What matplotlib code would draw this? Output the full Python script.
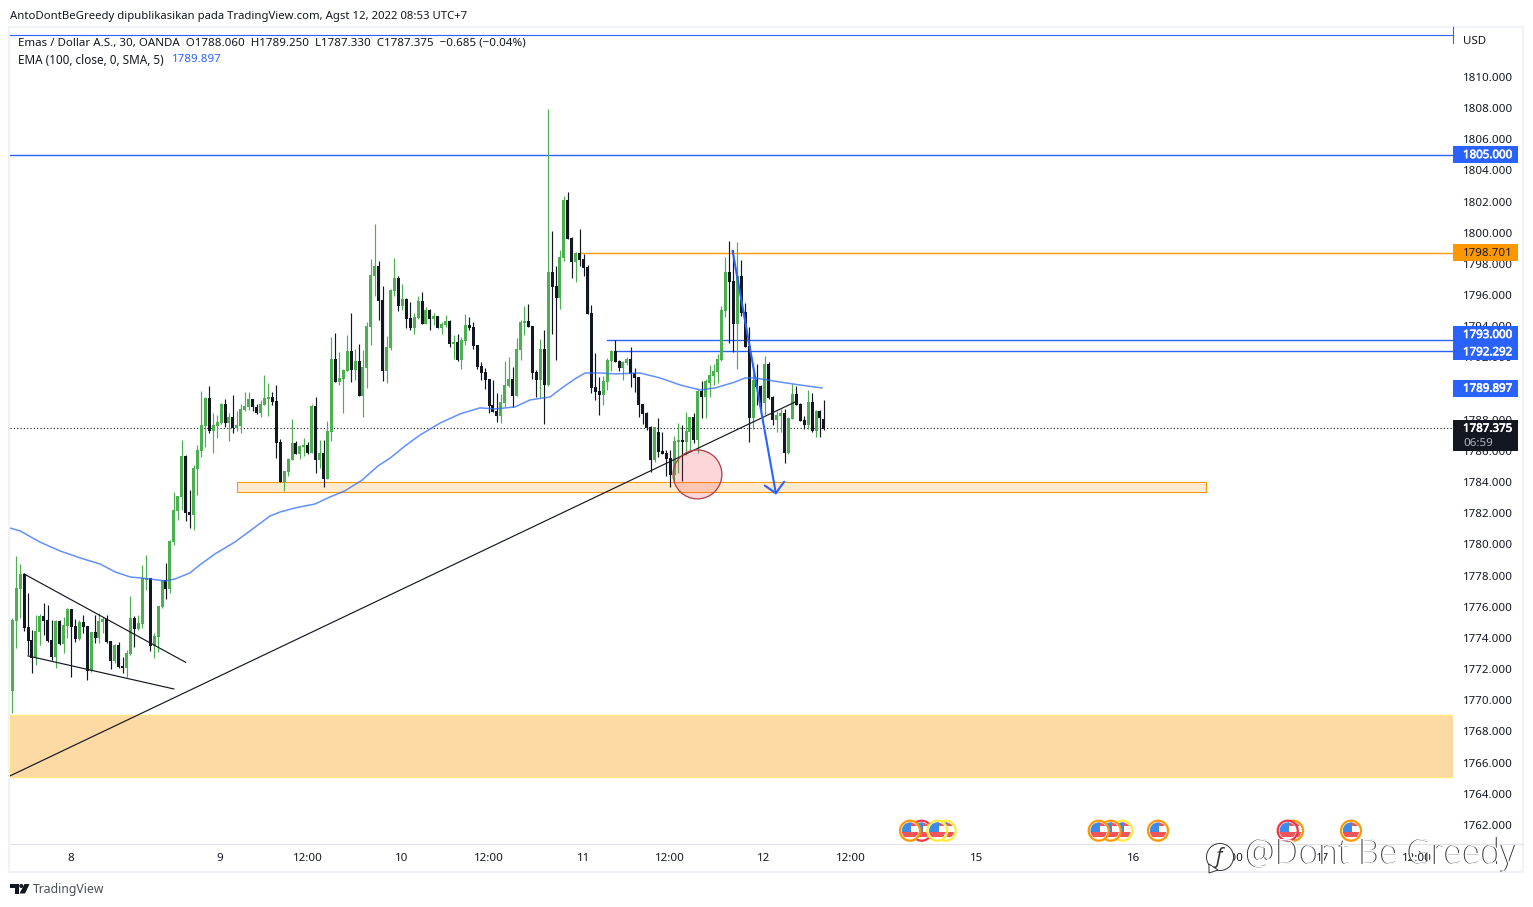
import matplotlib
matplotlib.use("Agg")
import matplotlib.pyplot as plt
from matplotlib.patches import Rectangle, Circle, Ellipse, Polygon
import matplotlib.patheffects as pe

W, H = 1533, 907
FONT = "Noto Sans"
plt.rcParams['font.family'] = [FONT, 'DejaVu Sans']

opens = [1770.60,1775.09,1777.14,1778.10,1774.70,1773.86,1772.71,1774.38,1775.41,1775.15,1773.86,1772.77,1775.09,1773.61,1774.76,1775.86,1774.76,1773.93,1775.02,1774.76,
1771.87,1774.38,1773.99,1775.02,1775.21,1773.80,1772.52,1773.54,1772.20,1772.07,1772.97,1775.28,1774.57,1774.89,1777.72,1777.84,1773.48,1774.06,1775.98,1777.72,
1777.14,1780.15,1782.14,1783.04,1785.67,1782.08,1781.89,1784.84,1785.99,1787.60,1789.40,1787.28,1787.60,1787.79,1789.01,1787.79,1788.18,1787.47,1787.60,1788.63,
1788.82,1789.33,1788.82,1788.43,1788.95,1789.33,1789.46,1789.20,1786.57,1784.00,1784.65,1785.42,1786.51,1785.80,1786.25,1786.38,1785.87,1788.88,1785.42,1785.87,
1784.20,1787.21,1791.90,1790.42,1790.62,1791.13,1792.41,1791.19,1791.77,1789.52,1791.32,1793.95,1797.23,1797.87,1795.69,1791.13,1792.61,1796.26,1797.10,1795.30,
1795.75,1794.53,1793.89,1794.53,1795.62,1794.15,1795.04,1794.47,1794.66,1793.89,1794.08,1794.34,1792.86,1792.99,1791.84,1793.05,1794.08,1793.95,1792.80,1791.45,
1791.07,1790.62,1788.95,1788.56,1788.24,1789.08,1790.17,1790.62,1789.52,1792.48,1794.21,1794.34,1794.02,1791.07,1790.55,1792.54,1790.23,1797.48,1796.58,1795.81,
1798.38,1802.10,1799.67,1798.12,1798.70,1798.32,1797.80,1794.85,1790.10,1789.85,1789.59,1790.42,1791.77,1792.41,1791.77,1791.32,1791.64,1791.90,1791.00,1790.74,
1789.01,1788.43,1787.53,1785.42,1787.21,1785.99,1785.87,1785.54,1784.45,1786.57,1786.70,1786.57,1787.21,1788.18,1786.70,1789.85,1789.46,1790.36,1790.81,1791.07,
1791.84,1794.98,1797.48,1796.91,1794.15,1797.23,1794.92,1792.73,1788.11,1790.55,1790.17,1789.08,1791.58,1789.46,1787.98,1788.24,1788.43,1785.87,1788.05,1789.65,
1789.01,1787.98,1787.66,1789.14,1787.28,1788.56,1788.06]
highs = [1775.28,1779.26,1778.74,1778.17,1776.88,1774.51,1775.47,1775.53,1776.24,1776.11,1775.15,1775.15,1775.15,1775.34,1775.92,1775.86,1775.21,1775.15,1775.47,1774.76,
1774.38,1775.47,1775.60,1775.34,1775.47,1773.80,1773.61,1773.73,1772.77,1773.22,1776.69,1775.41,1775.47,1778.68,1779.32,1777.84,1774.32,1776.05,1777.72,1778.81,
1780.28,1783.36,1783.10,1786.70,1785.74,1783.49,1785.10,1786.38,1789.85,1789.46,1790.17,1788.43,1788.31,1789.08,1789.33,1788.43,1789.59,1788.56,1789.01,1789.78,
1789.78,1789.33,1789.01,1789.27,1790.87,1790.36,1789.78,1790.23,1786.76,1784.71,1785.54,1788.05,1786.64,1786.38,1786.83,1786.57,1789.01,1789.46,1786.70,1786.70,
1787.92,1793.31,1793.57,1792.35,1791.26,1793.44,1794.85,1792.54,1792.86,1792.48,1794.27,1798.32,1800.56,1798.19,1796.58,1793.38,1796.39,1798.38,1797.23,1796.71,
1795.81,1795.56,1794.85,1795.94,1796.20,1795.24,1795.11,1794.85,1794.66,1794.27,1794.72,1794.40,1793.44,1793.50,1793.31,1794.79,1794.60,1794.27,1792.80,1791.71,
1791.32,1790.62,1790.55,1789.72,1789.65,1791.77,1792.03,1791.39,1793.25,1794.40,1795.30,1795.43,1794.02,1791.19,1793.18,1793.76,1807.94,1800.11,1797.87,1798.90,
1802.36,1802.62,1799.73,1798.77,1800.24,1798.64,1797.93,1795.37,1792.28,1790.74,1790.81,1791.96,1792.48,1793.12,1791.84,1791.77,1792.03,1792.67,1791.32,1790.74,
1789.01,1788.50,1787.60,1787.53,1788.11,1787.21,1786.06,1786.06,1786.96,1787.79,1787.66,1788.50,1788.18,1788.43,1789.97,1790.49,1790.62,1791.51,1791.58,1792.22,
1795.30,1798.45,1799.47,1798.90,1799.41,1798.25,1795.49,1793.95,1791.64,1791.58,1790.23,1792.09,1791.71,1789.52,1788.56,1788.69,1788.69,1788.18,1790.29,1790.17,
1789.08,1788.24,1789.91,1789.72,1788.63,1788.63,1789.25]
lows = [1769.18,1773.35,1775.28,1774.44,1772.90,1771.75,1772.26,1773.54,1774.19,1773.73,1772.58,1772.07,1773.54,1773.03,1773.99,1771.49,1773.73,1773.86,1774.32,1771.30,
1771.81,1773.67,1773.67,1774.32,1773.67,1772.00,1772.39,1772.07,1771.75,1771.49,1772.90,1773.41,1774.51,1774.64,1777.07,1773.16,1772.71,1773.09,1775.92,1776.50,
1776.88,1779.96,1781.57,1782.21,1781.50,1781.05,1780.92,1783.17,1785.61,1786.25,1787.15,1785.87,1786.83,1787.73,1787.53,1786.64,1787.15,1787.28,1787.15,1788.56,
1788.63,1788.56,1788.37,1788.18,1788.95,1788.24,1788.95,1785.54,1784.00,1783.43,1784.39,1785.42,1785.80,1785.48,1785.67,1785.80,1785.87,1784.58,1784.90,1783.68,
1784.20,1786.64,1790.42,1790.23,1788.43,1791.13,1790.42,1790.55,1789.52,1788.18,1790.04,1792.80,1795.94,1794.40,1790.49,1790.36,1792.48,1795.94,1794.98,1795.04,
1793.89,1793.76,1793.50,1794.47,1794.15,1794.15,1793.76,1794.08,1793.89,1793.50,1793.95,1792.67,1791.90,1791.77,1791.26,1792.80,1793.76,1792.54,1791.26,1790.55,
1789.97,1788.43,1788.50,1787.86,1787.79,1788.82,1790.10,1788.82,1789.52,1791.84,1793.44,1793.95,1790.62,1789.46,1789.40,1787.73,1790.17,1793.50,1791.84,1795.11,
1798.19,1799.60,1797.10,1796.84,1797.87,1797.23,1794.79,1789.72,1789.27,1788.31,1788.95,1789.91,1791.13,1791.71,1791.13,1790.55,1791.51,1790.10,1789.78,1788.18,
1787.73,1787.34,1784.65,1785.29,1785.61,1785.80,1784.39,1783.68,1784.00,1784.58,1784.07,1785.74,1786.06,1786.51,1785.87,1788.11,1788.11,1789.46,1790.23,1790.36,
1791.77,1794.60,1792.93,1792.35,1791.26,1794.66,1792.67,1786.57,1787.41,1788.95,1788.43,1788.31,1789.33,1787.66,1787.21,1787.21,1785.23,1785.80,1788.05,1788.95,
1787.92,1787.41,1787.41,1787.21,1786.89,1786.89,1787.33]
closes = [1775.15,1777.20,1778.10,1774.64,1773.80,1772.71,1774.44,1775.41,1775.09,1773.80,1772.77,1775.09,1773.61,1774.83,1775.86,1774.70,1773.93,1775.02,1774.70,1771.87,
1774.38,1773.99,1775.09,1775.21,1773.73,1772.52,1773.54,1772.13,1772.07,1773.03,1775.28,1774.57,1774.96,1777.84,1777.84,1773.48,1774.12,1776.05,1777.72,1777.14,
1780.22,1782.21,1783.10,1785.67,1782.01,1781.89,1784.90,1786.06,1787.66,1789.40,1787.28,1787.66,1787.86,1789.01,1787.79,1788.18,1787.47,1787.66,1788.69,1788.88,
1789.33,1788.82,1788.43,1789.01,1789.40,1789.46,1789.14,1786.51,1784.00,1784.71,1785.48,1786.51,1785.80,1786.32,1786.38,1785.87,1788.88,1785.42,1785.87,1784.20,
1787.28,1791.90,1790.42,1790.68,1791.19,1792.41,1791.19,1791.77,1789.52,1791.39,1794.02,1797.29,1797.87,1795.62,1791.13,1792.67,1796.33,1797.10,1795.30,1795.75,
1794.47,1793.89,1794.60,1795.62,1794.15,1795.04,1794.47,1794.66,1793.89,1794.15,1794.34,1792.86,1792.99,1791.84,1793.12,1794.08,1793.89,1792.73,1791.39,1791.00,
1790.55,1788.88,1788.50,1788.24,1789.14,1790.23,1790.62,1789.52,1792.54,1794.27,1794.34,1793.95,1791.00,1790.55,1792.54,1790.23,1797.48,1796.52,1795.81,1798.45,
1802.10,1799.60,1798.12,1798.70,1798.25,1797.74,1794.79,1790.04,1789.78,1789.59,1790.49,1791.84,1792.41,1791.71,1791.32,1791.71,1791.90,1790.94,1790.68,1788.95,
1788.37,1787.47,1785.42,1787.53,1785.93,1785.80,1785.48,1784.45,1786.64,1786.70,1786.57,1787.28,1788.18,1786.70,1789.85,1789.46,1790.49,1790.87,1791.13,1791.90,
1795.04,1797.48,1796.84,1794.15,1797.23,1794.85,1792.67,1788.11,1790.55,1790.10,1789.08,1791.58,1789.40,1787.98,1788.31,1788.43,1785.87,1788.11,1789.65,1788.95,
1787.92,1787.66,1789.14,1787.28,1788.56,1788.11,1787.375]

ema_idx = [-0.6,2.0,7.0,12.1,17.2,22.3,26.1,29.9,34.9,38.8,41.3,45.1,47.6,51.4,56.5,60.3,65.4,68.0,71.8,76.8,80.6,84.4,88.8,92.8,95.9,99.7,103.5,108.6,113.6,118.7,122.5,127.6,131.4,136.5,139.5,142.8,145.4,149.2,153.0,159.3,164.4,169.5,174.6,178.4,183.4,186.0,188.5,194.8,199.9,205.5]
ema_val = [1781.05,1780.86,1780.15,1779.58,1779.13,1778.74,1778.23,1777.91,1777.78,1777.65,1777.78,1778.17,1778.68,1779.38,1780.15,1780.86,1781.82,1782.08,1782.34,1782.59,1783.04,1783.43,1784.13,1785.03,1785.54,1786.32,1787.02,1787.79,1788.37,1788.76,1788.69,1788.82,1789.27,1789.46,1790.04,1790.62,1791.00,1791.00,1790.94,1791.00,1790.68,1790.23,1789.91,1790.04,1790.42,1790.68,1790.68,1790.42,1790.23,1790.04]

price_ticks = list(range(1810, 1760, -2))
price_labels = [f"{p}.000" for p in price_ticks]
time_pos = [14.9,52.7,75.0,98.9,121.0,144.9,167.0,190.8,212.9,244.8,284.7,308.8,332.6,356.5]
time_labels = ["8","9","12:00","10","12:00","11","12:00","12","12:00","15","16","12:00","17","12:00"]

GREEN, BLACK, BLUE, ORANGE = "#4CAF50", "#131722", "#2962FF", "#FF9800"

fig = plt.figure(figsize=(W/100, H/100), dpi=100, facecolor="white")
ax = fig.add_axes([10/W, 1-844/H, (1453-10)/W, (844-28)/H])
ax.set_xlim(-0.58, 365.66)
ax.set_ylim(1760.77, 1813.14)
for s in ax.spines.values():
    s.set_visible(False)
ax.yaxis.tick_right()
ax.set_yticks(price_ticks, price_labels, fontsize=8.3, color="#131722")
ax.tick_params(axis="y", length=0, pad=7.2)
ax.set_xticks(time_pos, time_labels, fontsize=8.3, color="#131722")
ax.tick_params(axis="x", length=0, pad=6.5)

# zones
ax.axhspan(1765.1, 1769.05, facecolor="#FDD9A3", edgecolor="#FFE680", lw=1, zorder=1)
ax.add_patch(Rectangle((57.1, 1783.34), 303.0-57.1, 1784.02-1783.34, facecolor="#FFEAD0", edgecolor=ORANGE, lw=0.75, zorder=1))

# levels
ax.plot([-0.58, 365.66], [1805, 1805], color=BLUE, lw=1.0, zorder=2)
ax.plot([143.9, 365.66], [1798.701, 1798.701], color=ORANGE, lw=1.0, zorder=2)
ax.plot([151.0, 365.66], [1793.11, 1793.11], color=BLUE, lw=1.0, zorder=2)
ax.plot([153.0, 365.66], [1792.40, 1792.40], color=BLUE, lw=1.0, zorder=2)
ax.plot([-0.58, 365.66], [1787.45, 1787.45], color=BLACK, lw=0.8, ls=(0, (1, 2)), zorder=2)

# candles
xs = list(range(len(opens)))
cols = [GREEN if c >= o else BLACK for o, c in zip(opens, closes)]
ax.vlines(xs, lows, highs, colors=cols, lw=0.85, zorder=3)
ax.bar(xs, [abs(c-o) for o, c in zip(opens, closes)], bottom=[min(o, c) for o, c in zip(opens, closes)],
       width=0.76, color=cols, lw=0, zorder=3)

# EMA
ax.plot(ema_idx, ema_val, color="#2F6BFF", lw=1.1, alpha=0.75, zorder=4)

# drawings
ax.plot([-0.58, 199.2], [1765.14, 1789.20], color=BLACK, lw=0.85, zorder=5)
ax.plot([3.0, 44.0], [1778.10, 1772.43], color=BLACK, lw=0.85, zorder=5)
ax.plot([4.0, 41.0], [1772.84, 1770.72], color=BLACK, lw=0.85, zorder=5)
ax.add_patch(Ellipse((173.9, 1784.49), 12.4, 3.14, facecolor=(0.95, 0.21, 0.27, 0.2), edgecolor="#B5374A", lw=0.9, zorder=5))
ax.plot([182.8, 193.8], [1798.85, 1783.28], color=BLUE, lw=1.5, zorder=6, solid_capstyle="round")
ax.plot([191.0, 193.8, 195.9], [1783.77, 1783.28, 1784.02], color=BLUE, lw=1.5, zorder=6, solid_capstyle="round")

# overlay in pixel coordinates for the page chrome
ov = fig.add_axes([0, 0, 1, 1], facecolor="none")
ov.set_xlim(0, W)
ov.set_ylim(H, 0)
ov.axis("off")

FR = "#EFF2F8"
ov.add_patch(Rectangle((9, 27), 1514, 845, fill=False, edgecolor=FR, lw=1.5))
ov.plot([10, 1523], [844, 844], color="#E0E3EB", lw=0.8)
ov.plot([10, 1453], [35, 35], color=BLUE, lw=0.8)
ov.plot([1453, 1453], [27, 43], color=BLUE, lw=0.8)

TXT = dict(family=[FONT, "DejaVu Sans"], va="center", ha="left")
ov.text(10, 16, "AntoDontBeGreedy dipublikasikan pada TradingView.com, Agst 12, 2022 08:53 UTC+7", fontsize=8.18, color="#131722", **TXT)
ov.text(18, 43, "Emas / Dollar A.S., 30, OANDA  O1788.060  H1789.250  L1787.330  C1787.375  \u22120.685 (\u22120.04%)", fontsize=8.3, color="#131722", **TXT)
ov.text(18, 60, "EMA (100, close, 0, SMA, 5)", fontsize=8.45, color="#131722", **TXT)
ov.text(172, 60, "1789.897", fontsize=8.3, color=BLUE, **TXT)
ov.text(1463, 42, "USD", fontsize=8.3, color="#131722", **TXT)

# price tags
def tag(y0, y1, color):
    ov.add_patch(Rectangle((1453, y0), 65, y1-y0, facecolor=color, edgecolor="none", zorder=5))
def tag_text(y, s, color="white", bold=False, x=1463):
    t = ov.text(x, y, s, fontsize=8.3, color=color, zorder=6, **TXT)
    if bold:
        t.set_path_effects([pe.withStroke(linewidth=0.45, foreground=color)])

tag(146, 163, BLUE);  tag_text(155.6, "1805.000", bold=True)
tag(244, 261, ORANGE); tag_text(253.4, "1798.701", color="#131722")
tag(326, 360, BLUE);  tag_text(335.5, "1793.000", bold=True); tag_text(352.8, "1792.292", bold=True)
tag(380, 397, BLUE);  tag_text(389.2, "1789.897", bold=True)
tag(420, 451, BLACK); tag_text(429.2, "1787.375", bold=True); tag_text(443.5, "06:59", color="#B2B5BE")

# flags
def flag(x, y, ring, z):
    r = 8.3
    clip = Circle((x, y), r, transform=ov.transData)
    ov.add_patch(Circle((x, y), 10, facecolor="white", edgecolor=ring, lw=1.6, zorder=z))
    for rect in [Rectangle((x, y-r), r, 3.2, color="#F2545B", lw=0, zorder=z+0.1),
                 Rectangle((x-r, y+1.2), 2*r, 4.6, color="#F2545B", lw=0, zorder=z+0.1),
                 Rectangle((x-r, y-r), r+1.4, r+1, color="#3D8BE8", lw=0, zorder=z+0.2)]:
        ov.add_patch(rect)
        rect.set_clip_path(clip)

flags = [(945.7, "#FFEB3B"), (921.7, "#F23645"), (937.3, "#FFEB3B"), (910, ORANGE),
         (1122.3, "#FFEB3B"), (1110.7, ORANGE), (1098.7, ORANGE), (1158, ORANGE),
         (1293, ORANGE), (1287.7, "#F23645"), (1351, ORANGE)]
for i, (fx, fc) in enumerate(flags):
    flag(fx, 830.7, fc, 3 + i*0.5)

# logo
ov.text(33, 889.5, "TradingView", fontsize=8.8, color="#4A4E59", **TXT)
ov.add_patch(Polygon([(10, 884), (18.5, 884), (18.5, 893.5), (14.5, 893.5), (14.5, 888), (10, 888)], color="#131722", lw=0))
ov.add_patch(Circle((21.3, 886), 2, color="#131722", lw=0))
ov.add_patch(Polygon([(24.5, 884), (29.5, 884), (25, 893.5), (19.5, 893.5)], color="#131722", lw=0))

# watermark
WM = dict(family=["Open Sans", "DejaVu Sans"], fontsize=24.2, va="center", ha="left", zorder=20, fontweight="light")
ov.text(1245, 854, "@Dont Be Greedy", color="#333333", **WM)
ov.text(1245.9, 854, "@Dont Be Greedy", color="white", **WM)
ov.add_patch(Circle((1220, 857), 13.5, facecolor="white", edgecolor="#333333", lw=0.7, zorder=19))
ov.add_patch(Polygon([(1209, 864), (1218, 870), (1209, 873)], facecolor="white", edgecolor="#333333", lw=0.7, zorder=19))
ov.text(1215, 857, "f", color="#333333", fontsize=15, va="center", ha="left", zorder=20, family=["Open Sans", "DejaVu Sans"], fontstyle="italic")

fig.savefig("out.png", dpi=100, facecolor="white")
